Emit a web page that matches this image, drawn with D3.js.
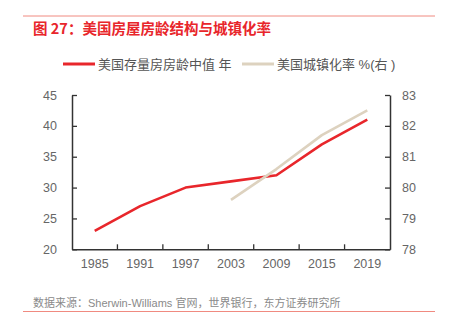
<!DOCTYPE html>
<html><head><meta charset="utf-8">
<script src="https://cdn.jsdelivr.net/npm/d3@7"></script>
<style>
html,body{margin:0;padding:0;background:#fff;}
svg{display:block;}
text{font-family:"Liberation Sans","Noto Sans CJK SC",Arial,sans-serif;}
</style></head>
<body>
<svg id="chart" width="449" height="324"></svg>
<script>
const titleText = "图 27：美国房屋房龄结构与城镇化率";
const sourceText = "数据来源：Sherwin-Williams 官网，世界银行，东方证券研究所";
const categories = ["1985","1991","1997","2003","2009","2015","2019"];
const houseAge = [23,27,30,31,32,37,41];
const urbanRate = [null,null,null,79.6,80.6,81.7,82.5];
const leftTicks = [20,25,30,35,40,45];
const rightTicks = [78,79,80,81,82,83];
const seriesNames = ["美国存量房房龄中值 年","美国城镇化率 %(右 )"];

const svg = d3.select("#chart");
const red = "#e8262b", beige = "#ddd2bf", axisCol = "#333", tickCol = "#666";
const L = 72, R = 390, T = 95, B = 249.3;

// rules
svg.append("line").attr("x1",23).attr("x2",435).attr("y1",16).attr("y2",16).attr("stroke","#f08a80").attr("stroke-width",1);
svg.append("line").attr("x1",23).attr("x2",435).attr("y1",311.5).attr("y2",311.5).attr("stroke","#f08a80").attr("stroke-width",1);

svg.append("text").attr("x",33).attr("y",33.5).attr("fill",red).attr("font-size","14.5px").attr("font-weight","bold")
  .style("font-family",'"Noto Sans CJK SC","Liberation Sans",sans-serif').text(titleText);
svg.append("text").attr("x",33).attr("y",307).attr("fill","#8a8a8a").attr("font-size","11px")
  .style("font-family",'"Liberation Sans","Noto Sans CJK SC",sans-serif').text(sourceText);

// legend
const legend = [{x:63,c:red},{x:242,c:beige}];
legend.forEach((d,i)=>{
  svg.append("line").attr("x1",d.x).attr("x2",d.x+32).attr("y1",64).attr("y2",64).attr("stroke",d.c).attr("stroke-width",3);
  svg.append("text").attr("x",d.x+35).attr("y",68.5).attr("fill","#555").attr("font-size","13px")
    .style("font-family",'"Liberation Sans","Noto Sans CJK SC",sans-serif').text(seriesNames[i]);
});

const x = d3.scaleBand().domain(categories).range([L,R]);
const yL = d3.scaleLinear().domain([20,45]).range([B,T]);
const yR = d3.scaleLinear().domain([78,83]).range([B,T]);

function styleAxis(g){
  g.selectAll("path.domain").attr("stroke",axisCol).attr("stroke-width",1.5);
  g.selectAll(".tick line").attr("stroke",axisCol).attr("stroke-width",1.3);
  g.selectAll("text").attr("fill",tickCol).attr("font-size","12.5px").style("font-family",'"Liberation Sans",Arial,sans-serif');
}

const gl = svg.append("g").attr("transform",`translate(${L},0)`)
  .call(d3.axisLeft(yL).tickValues(leftTicks).tickFormat(d3.format("d")).tickSize(-5).tickSizeOuter(0).tickPadding(15));
styleAxis(gl);
const gr = svg.append("g").attr("transform",`translate(${R},0)`)
  .call(d3.axisRight(yR).tickValues(rightTicks).tickFormat(d3.format("d")).tickSize(-5).tickSizeOuter(0).tickPadding(12));
styleAxis(gr);
gr.selectAll("text").attr("text-anchor","start");

// bottom axis: labels centered, ticks on band boundaries
const gb = svg.append("g").attr("transform",`translate(0,${B})`)
  .call(d3.axisBottom(x).tickSize(0).tickPadding(10).tickSizeOuter(0));
styleAxis(gb);
const bounds = categories.slice(1).map(c=>x(c));
gb.selectAll("line.bt").data(bounds).enter().append("line").attr("class","bt")
  .attr("x1",d=>d).attr("x2",d=>d).attr("y1",0).attr("y2",-5).attr("stroke",axisCol).attr("stroke-width",1.3);

const cx = c => x(c)+x.bandwidth()/2;
const line1 = d3.line().x((d,i)=>cx(categories[i])).y(d=>yL(d));
svg.append("path").datum(houseAge).attr("d",line1).attr("fill","none").attr("stroke",red).attr("stroke-width",2.6).attr("stroke-linejoin","round");

const line2 = d3.line().defined(d=>d!=null).x((d,i)=>cx(categories[i])).y(d=>yR(d));
svg.append("path").datum(urbanRate).attr("d",line2).attr("fill","none").attr("stroke",beige).attr("stroke-width",2.6).attr("stroke-linejoin","round");
</script>
</body></html>
